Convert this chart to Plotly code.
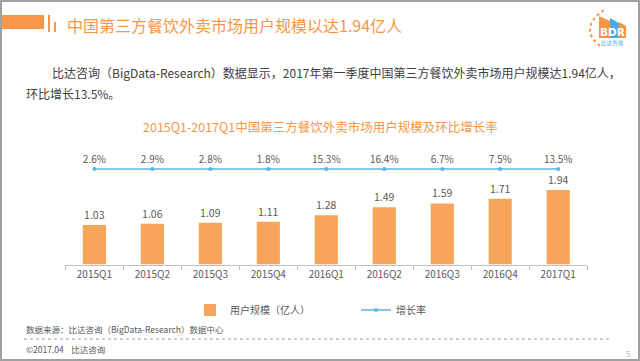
import plotly.graph_objects as go

# ---------------- data ----------------
categories = ["2015Q1", "2015Q2", "2015Q3", "2015Q4", "2016Q1",
              "2016Q2", "2016Q3", "2016Q4", "2017Q1"]
users = [1.03, 1.06, 1.09, 1.11, 1.28, 1.49, 1.59, 1.71, 1.94]   # 亿人
growth = [2.6, 2.9, 2.8, 1.8, 15.3, 16.4, 6.7, 7.5, 13.5]         # %

bar_name = "用户规模（亿人）"
line_name = "增长率"
page_title = "中国第三方餐饮外卖市场用户规模以达1.94亿人"
para_line1 = "比达咨询（BigData-Research）数据显示，2017年第一季度中国第三方餐饮外卖市场用户规模达1.94亿人，"
para_line2 = "环比增长13.5%。"
chart_title = "2015Q1-2017Q1中国第三方餐饮外卖市场用户规模及环比增长率"
source_text = "数据来源：比达咨询（BigData-Research）数据中心"
copyright_text = "©2017.04    比达咨询"

# ---------------- style ----------------
W, H = 640, 361
FONT = "Noto Sans CJK SC, Microsoft YaHei, sans-serif"
ORANGE = "#F79646"
BAR = "#F8A55C"
BLUE = "#5DB5E6"
GRAY = "#595959"


def X(px):
    return px / W


def Y(py):
    return 1 - py / H


fig = go.Figure()

fig.add_trace(go.Bar(
    x=categories, y=users, name=bar_name,
    marker=dict(color=BAR, line=dict(width=0)),
    width=0.4,
    text=[f"{v:.2f}" for v in users], textposition="outside",
    textfont=dict(size=10.5, color=GRAY, family=FONT),
    cliponaxis=False,
))

# growth-rate line is drawn as a flat row above the bars (as in the original)
row = [1 for _ in growth]
fig.add_trace(go.Scatter(
    x=categories, y=row, yaxis="y2", name=line_name,
    mode="lines+markers+text",
    line=dict(color=BLUE, width=1.5),
    marker=dict(color=BLUE, size=4),
    text=[f"{g}%" for g in growth], textposition="top center",
    textfont=dict(size=10, color=GRAY, family=FONT),
    cliponaxis=False,
))

shapes = [
    # title decoration
    dict(type="rect", xref="paper", yref="paper", x0=X(0), x1=X(44), y0=Y(15), y1=Y(29),
         fillcolor=ORANGE, line=dict(width=0)),
    dict(type="rect", xref="paper", yref="paper", x0=X(48), x1=X(50), y0=Y(15), y1=Y(32),
         fillcolor=ORANGE, line=dict(width=0)),
    dict(type="rect", xref="paper", yref="paper", x0=X(54), x1=X(56), y0=Y(22), y1=Y(32),
         fillcolor=ORANGE, line=dict(width=0)),
    # footer dotted rule
    dict(type="line", xref="paper", yref="paper", x0=X(24), x1=X(610), y0=Y(339), y1=Y(339),
         line=dict(color="#9A9A9A", width=1, dash="dot")),
    # logo: dotted arc + buildings
    dict(type="path", xref="paper", yref="paper",
         path=f"M{X(604)},{Y(10)} Q{X(578)},{Y(28)} {X(600)},{Y(46)}",
         line=dict(color=ORANGE, width=2, dash="dot")),
    dict(type="path", xref="paper", yref="paper",
         path=f"M{X(599)},{Y(38)} L{X(599)},{Y(16)} L{X(610)},{Y(21)} L{X(610)},{Y(38)} Z",
         fillcolor=ORANGE, line=dict(width=0)),
    dict(type="path", xref="paper", yref="paper",
         path=f"M{X(610)},{Y(38)} L{X(610)},{Y(18)} L{X(619)},{Y(23)} L{X(619)},{Y(38)} Z",
         fillcolor="#4FA9E4", line=dict(width=0)),
    dict(type="path", xref="paper", yref="paper",
         path=f"M{X(619)},{Y(38)} L{X(619)},{Y(22)} L{X(626)},{Y(26)} L{X(626)},{Y(38)} Z",
         fillcolor=ORANGE, line=dict(width=0)),
    # slide frame
    dict(type="rect", xref="paper", yref="paper", x0=0, x1=1, y0=0, y1=1,
         line=dict(color="#A0A0A0", width=4), fillcolor="rgba(0,0,0,0)"),
]


def ann(text, x, y, size, color, xanchor="left", family=FONT, bold=False):
    return dict(text=f"<b>{text}</b>" if bold else text, x=X(x), y=Y(y),
                xref="paper", yref="paper", xanchor=xanchor, yanchor="middle",
                showarrow=False, font=dict(size=size, color=color, family=family))


annotations = [
    ann(page_title, 65, 25, 16, ORANGE),
    ann(para_line1, 50, 72, 12, "#404040"),
    ann(para_line2, 24, 94, 12, "#404040"),
    ann(chart_title, 320, 127, 12.5, ORANGE, xanchor="center"),
    ann(source_text, 24, 329, 8.5, GRAY),
    ann(copyright_text, 24, 349, 8.5, GRAY),
    ann("5", 628, 353, 8, "#BBBBBB", xanchor="center"),
    ann("BDR", 612, 32, 10.5, "white", xanchor="center", family="DejaVu Sans", bold=True),
    ann("比达咨询", 612, 43, 5.5, "#4FA9E4", xanchor="center"),
]

fig.update_layout(
    width=W, height=H,
    margin=dict(l=0, r=0, t=0, b=0),
    paper_bgcolor="white", plot_bgcolor="white",
    font=dict(family=FONT, color=GRAY),
    showlegend=True,
    legend=dict(orientation="h", x=X(190), y=Y(310), xanchor="left", yanchor="middle",
                font=dict(size=10, color=GRAY, family=FONT),
                entrywidth=121, entrywidthmode="pixels",
                bgcolor="rgba(0,0,0,0)", itemwidth=30),
    xaxis=dict(domain=[X(65.3), X(587.3)], showline=True, linecolor="#BFBFBF", linewidth=1,
               ticks="outside", tickson="boundaries", ticklen=4, tickcolor="#BFBFBF",
               tickfont=dict(size=10, color=GRAY, family=FONT), showgrid=False,
               zeroline=False),
    yaxis=dict(domain=[Y(264.5), Y(180)], range=[0, 2.2], visible=False, showgrid=False),
    yaxis2=dict(domain=[Y(180), Y(158)], range=[0, 2], visible=False, anchor="x",
                showgrid=False),
    bargap=0.6,
    shapes=shapes,
    annotations=annotations,
)

fig.write_html("out.html",
               config={"displayModeBar": False},
               post_script="document.body.style.margin='0';document.body.style.overflow='hidden';")
